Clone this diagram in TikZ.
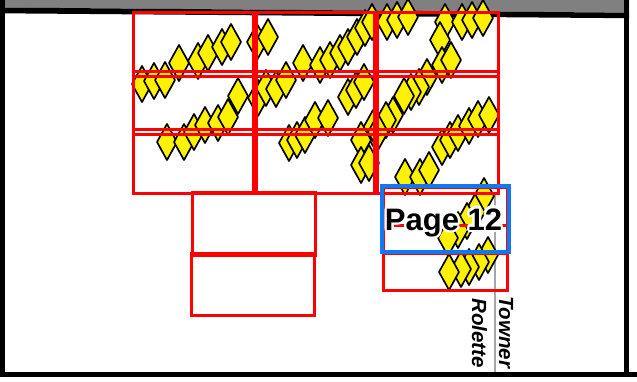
\documentclass[tikz,border=0pt]{standalone}
\usepackage{fontspec}
\setmainfont{Liberation Sans}
\definecolor{pgblue}{RGB}{16,120,245}
\definecolor{bandgray}{RGB}{128,128,128}
\tikzset{
  redbox/.style={draw=red, line width=3pt},
  bluebox/.style={draw=pgblue, line width=4.2pt},
  dia/.style={fill=yellow, draw=black, line width=1.7pt, line join=round},
  county/.style={font=\bfseries\itshape\fontsize{20.5}{20.5}\selectfont, rotate=-90, anchor=base west, inner sep=0pt},
  pagelabel/.style={font=\bfseries\fontsize{31}{31}\selectfont, anchor=base, inner sep=0pt}
}
\begin{document}
\begin{tikzpicture}[x=1pt,y=-1pt]
\useasboundingbox (0,0) rectangle (637,381);
\fill[white] (0,0) rectangle (637,381);
% top gray band and frame
\fill[bandgray] (0,0) -- (629,0) -- (629,12.7) -- (0,7.5) -- cycle;
\fill[black] (0,7.5) -- (629,12.7) -- (629,18.2) -- (0,13.3) -- cycle;
\fill[black] (0,0) rectangle (5,377);
\fill[black] (624,0) rectangle (629,377);
\fill[black] (0,372) rectangle (637,377);
% county boundary
\draw[gray!70, line width=1.2pt] (495,193) -- (495,372);
% diamonds
\foreach \x/\y in {
  142/84,154/81,165/80,179/63,198/61,208/53,222/47,231/42,
  167/142,184/142,194/132,205/125,218/123,228/117,238/96,
  257/42,268/37,
  258/98,266/88,276/89,286/80,
  303/63,320/65,330/60,340/53,348/47,357/37,365/28,372/22,
  348/97,356/90,364/82,
  289/143,297/140,305/135,315/120,328/118,
  373/128,361/140,361/165,369/163,
  387/22,397/20,408/17,
  445/22,440/40,462/22,472/20,483/18,
  442/65,451/60,427/77,419/87,411/92,404/96,393/115,386/120,378/132,
  442/147,450/140,458/133,469/126,478/119,489/115,
  405/177,420/177,429/170,
  484/196,475/212,467/221,458/230,448/238,
  488/255,479/262,469/267,461/269,449/272}
{
  \filldraw[dia] (\x,\y-18) -- (\x+10,\y) -- (\x,\y+18) -- (\x-10,\y) -- cycle;
}
% red grid
\draw[redbox] (133,12) rectangle (256,76);
\draw[redbox] (253,12) rectangle (377,76);
\draw[redbox] (374,12) rectangle (498,76);
\draw[redbox] (133,71) rectangle (256,134);
\draw[redbox] (253,71) rectangle (377,134);
\draw[redbox] (374,71) rectangle (498,134);
\draw[redbox] (133,129) rectangle (256,193);
\draw[redbox] (253,129) rectangle (377,193);
\draw[redbox] (374,129) rectangle (498,193);
% lower left pages
\draw[redbox] (192,192) rectangle (315.5,255);
\draw[redbox] (191,253) rectangle (314.5,315);
% lower right pages
\draw[redbox] (383,187) rectangle (507,253);
\draw[redbox] (383,225) rectangle (507,290);
% highlighted page
\draw[bluebox] (382,186) rectangle (509,252);
% page label with white halo
\foreach \a [count=\i] in {0,30,...,330}
  \node[pagelabel, text=white] (halo\i) at ([shift={(\a:2.4)}]443.5,230) {Page 12};
\node[pagelabel, text=black] (p12) at (443.5,230) {Page 12};
% county names
\node[county] (rol) at (472,298) {Rolette};
\node[county] (tow) at (499,296) {Towner};
\end{tikzpicture}
\end{document}
